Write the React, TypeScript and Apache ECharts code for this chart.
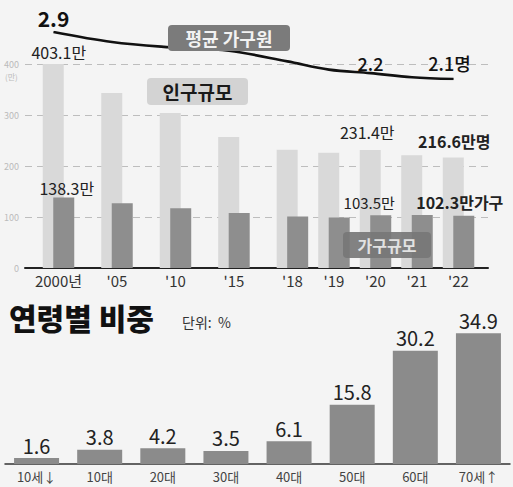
import React, { useEffect, useRef } from "react";
import * as echarts from "echarts";

// ---- data ----
const years = ["2000년", "'05", "'10", "'15", "'18", "'19", "'20", "'21", "'22"];
const population = [403.1, 343, 304, 257, 232, 226, 231.4, 221, 216.6]; // 인구규모 (만명)
const households = [138.3, 127, 117, 108, 101, 99, 103.5, 104, 102.3]; // 가구규모 (만가구)
const avgMembers = [2.9, 2.73, 2.64, 2.58, 2.4, 2.26, 2.2, 2.13, 2.1]; // 평균 가구원 (명)
const popTicks = [0, 100, 200, 300, 400];
const ageGroups = ["10세↓", "10대", "20대", "30대", "40대", "50대", "60대", "70세↑"];
const ageShares = [1.6, 3.8, 4.2, 3.5, 6.1, 15.8, 30.2, 34.9];

// ---- layout helpers (axis slot spacing: yearly slots after '18 are narrower) ----
const NARROW = 0.71;
const slot = (i: number) => (i <= 4 ? i : 4 + (i - 4) * NARROW);
const X_MIN = -0.573;
const X_MAX = slot(8) + 0.504;
const FONT = "'Noto Sans CJK KR', 'Noto Sans', sans-serif";

const popLabelStyle: Record<number, any> = {
  0: { suffix: "만", offset: [5.5, 0], distance: 4, fontSize: 16, fontWeight: 400 },
  6: { suffix: "만", offset: [-3, 0], distance: 10, fontSize: 16, fontWeight: 400 },
  8: { suffix: "만명", offset: [1, 0], distance: 9, fontSize: 16, fontWeight: 700 },
};
const hhLabelStyle: Record<number, any> = {
  0: { suffix: "만", offset: [3, 0], distance: 1, fontSize: 16, fontWeight: 400 },
  6: { suffix: "만", offset: [-11.5, 0], distance: 5, fontSize: 15, fontWeight: 400 },
  8: { suffix: "만가구", offset: [-4, 0], distance: 6, fontSize: 16, fontWeight: 700 },
};
const lineLabelStyle: Record<number, any> = {
  0: { suffix: "", offset: [0, 0], distance: 3, fontSize: 21, fontWeight: 700 },
  6: { suffix: "", offset: [0, 0], distance: 1, fontSize: 18, fontWeight: 500 },
  8: { suffix: "명", offset: [-4, 0], distance: 6.5, fontSize: 18, fontWeight: 500 },
};

const withLabels = (values: number[], styles: Record<number, any>, color: string) =>
  values.map((v, i) => {
    const s = styles[i];
    const item: any = { value: [slot(i), v] };
    if (s) {
      item.label = {
        show: true,
        position: "top",
        distance: s.distance,
        offset: s.offset,
        fontSize: s.fontSize,
        fontWeight: s.fontWeight,
        color,
        fontFamily: FONT,
        formatter: () => `${v}${s.suffix}`,
      };
    }
    return item;
  });

const tagBox = (
  left: number,
  top: number,
  w: number,
  h: number,
  text: string,
  fill: string,
  color: string,
  fontSize: number,
  opacity = 1
) => ({
  type: "group",
  left,
  top,
  z: 100,
  children: [
    { type: "rect", z: 100, shape: { x: 0, y: 0, width: w, height: h, r: 4 }, style: { fill, opacity } },
    {
      type: "text",
      z: 101,
      x: w / 2,
      y: h / 2,
      style: {
        text,
        fontSize,
        fontWeight: 700,
        fill: color,
        fontFamily: FONT,
        align: "center",
        verticalAlign: "middle",
      },
    },
  ],
});

function buildOption(): any {
  const slots = years.map((_, i) => slot(i));
  return {
    animation: false,
    backgroundColor: "#f4f4f4",
    grid: [
      { left: 25, right: 25, top: 64, bottom: 219 },
      { left: 20, right: 30, top: 32, bottom: 408 },
      { left: 5, right: 3, top: 314, bottom: 23 },
    ],
    xAxis: [
      {
        type: "value",
        gridIndex: 0,
        min: X_MIN,
        max: X_MAX,
        splitLine: { show: false },
        axisTick: { show: false },
        axisLine: { show: true, onZero: false, lineStyle: { color: "#222", width: 2 } },
        axisLabel: {
          customValues: slots,
          margin: 5,
          fontSize: 15,
          color: "#333",
          fontFamily: FONT,
          formatter: (val: number) => {
            let best = 0;
            slots.forEach((s, i) => {
              if (Math.abs(s - val) < Math.abs(slots[best] - val)) best = i;
            });
            return years[best];
          },
        },
      },
      { type: "value", gridIndex: 1, min: X_MIN, max: X_MAX, show: false },
      {
        type: "category",
        gridIndex: 2,
        data: ageGroups,
        axisTick: { show: false },
        axisLine: { lineStyle: { color: "#333", width: 1.5 } },
        axisLabel: { fontSize: 13, color: "#444", margin: 6, fontFamily: FONT },
      },
    ],
    yAxis: [
      {
        type: "value",
        gridIndex: 0,
        min: popTicks[0],
        max: popTicks[popTicks.length - 1],
        interval: popTicks[1] - popTicks[0],
        axisLine: { show: false },
        axisTick: { show: false },
        axisLabel: { fontSize: 9, color: "#bbb", margin: 6, fontFamily: FONT },
        splitLine: { lineStyle: { color: "#bdbdbd", width: 1, type: [7, 5] } },
      },
      { type: "value", gridIndex: 1, min: 2.1, max: 2.9, show: false },
      { type: "value", gridIndex: 2, min: 0, max: 40, show: false },
    ],
    series: [
      {
        type: "bar",
        name: "인구규모",
        xAxisIndex: 0,
        yAxisIndex: 0,
        barWidth: 21,
        barGap: "-50%",
        itemStyle: { color: "#d9d9d9" },
        data: withLabels(population, popLabelStyle, "#222"),
        z: 2,
      },
      {
        type: "bar",
        name: "가구규모",
        xAxisIndex: 0,
        yAxisIndex: 0,
        barWidth: 21,
        barGap: "-50%",
        itemStyle: { color: "#8e8e8e" },
        data: withLabels(households, hhLabelStyle, "#222"),
        z: 3,
      },
      {
        type: "line",
        name: "평균 가구원",
        xAxisIndex: 1,
        yAxisIndex: 1,
        smooth: 0.35,
        symbol: "circle",
        symbolSize: 0.5,
        showSymbol: true,
        itemStyle: { color: "#111" },
        lineStyle: { color: "#111", width: 2.6 },
        data: withLabels(avgMembers, lineLabelStyle, "#111"),
        z: 5,
      },
      {
        type: "bar",
        name: "연령별 비중",
        xAxisIndex: 2,
        yAxisIndex: 2,
        barWidth: 45,
        itemStyle: { color: "#8b8b8b" },
        label: {
          show: true,
          position: "top",
          distance: 3,
          fontSize: 20,
          color: "#222",
          fontFamily: FONT,
        },
        data: ageShares,
      },
    ],
    graphic: [
      {
        type: "text",
        left: 5,
        top: 72,
        style: { text: "(만)", fontSize: 8, fill: "#bbb", fontFamily: FONT },
      },
      tagBox(168, 25, 122, 26, "평균 가구원", "#7b7b7b", "#f2f2f2", 18),
      tagBox(147, 78, 101, 27, "인구규모", "#d3d3d3", "#1a1a1a", 19),
      tagBox(343, 232, 88, 26, "가구규모", "#777777", "#e2e2e2", 16, 0.92),
      {
        type: "text",
        left: 9,
        top: 302,
        style: { text: "연령별 비중", fontSize: 30, fontWeight: 900, fill: "#111", fontFamily: FONT },
      },
      {
        type: "text",
        left: 182,
        top: 315,
        style: { text: "단위:  %", fontSize: 14, fill: "#333", fontFamily: FONT },
      },
    ],
  };
}

export default function App() {
  const ref = useRef<HTMLDivElement>(null);
  useEffect(() => {
    if (!ref.current) return;
    const chart = echarts.init(ref.current, undefined, { renderer: "svg" });
    chart.setOption(buildOption());
    return () => chart.dispose();
  }, []);
  return (
    <div
      ref={ref}
      style={{ position: "fixed", left: 0, top: 0, width: 513, height: 487, background: "#f4f4f4" }}
    />
  );
}
